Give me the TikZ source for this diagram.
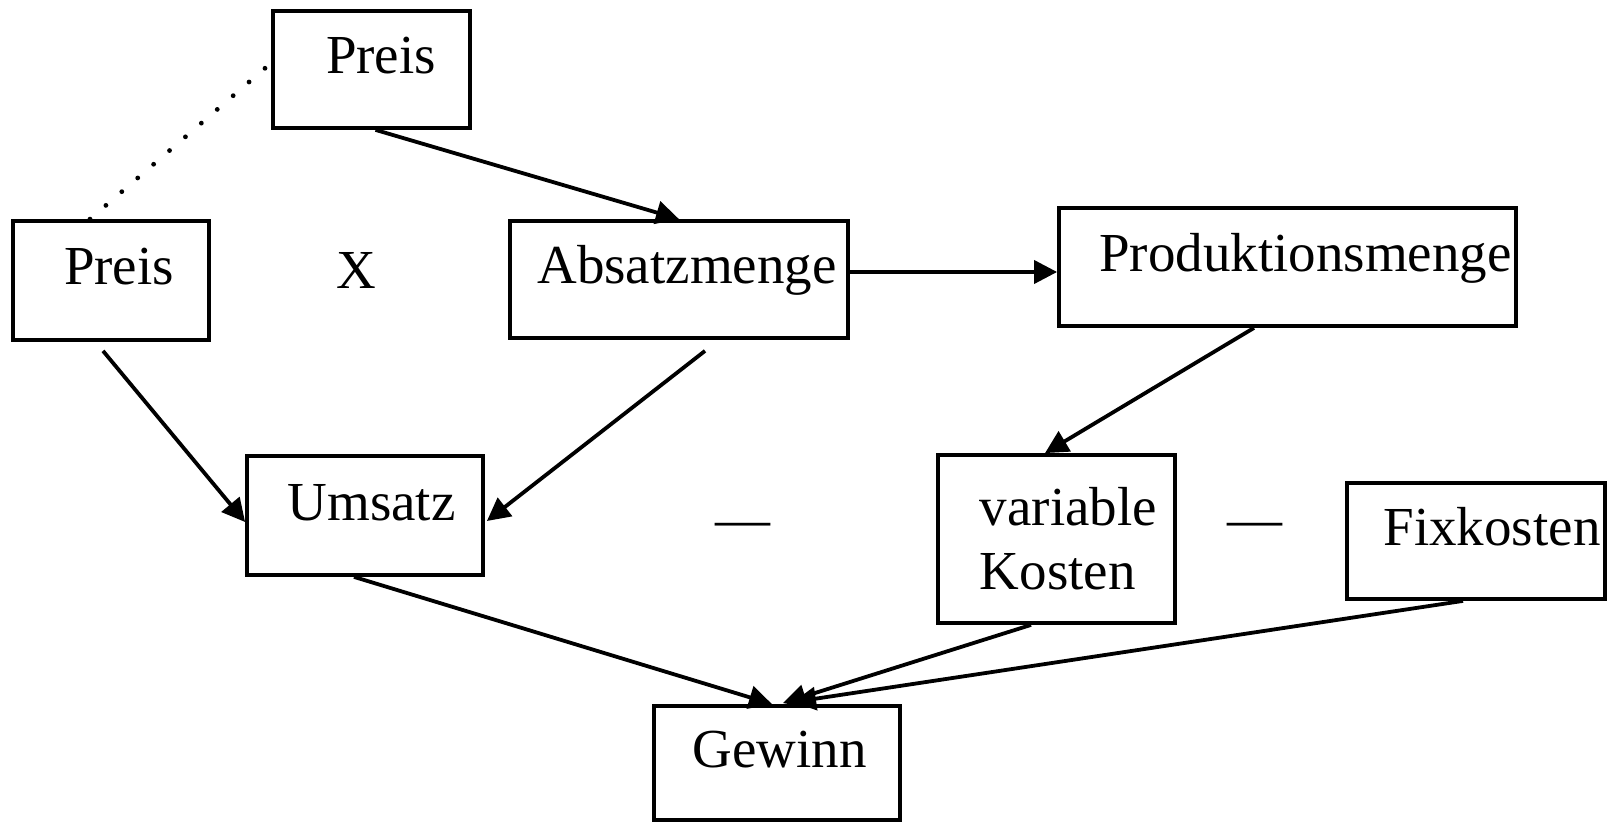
\documentclass[tikz,border=0pt]{standalone}
\usepackage{fontspec}
\setmainfont{Liberation Serif}
\usetikzlibrary{arrows.meta}

\begin{document}
\begin{tikzpicture}[x=0.5pt, y=-0.5pt,
  box/.style={draw, rectangle, line width=1.9pt, inner sep=0pt, font=\fontsize{27.5}{32}\selectfont},
  onerow/.style={text height=0.7em, text depth=0.25em},
  sign/.style={inner sep=0pt, font=\fontsize{27.5}{32}\selectfont},
  arr/.style={line width=1.9pt, -{Triangle[length=11.5pt, width=11.5pt]}}]

\useasboundingbox (0,0) rectangle (1610,823);

% === Boxes ===
\node[box, onerow, minimum width=98.5pt, minimum height=58.5pt] (preisA) at (371.5,69.5) {\hspace*{9.5pt}Preis};
\node[box, onerow, minimum width=98pt, minimum height=59.5pt] (preisB) at (111,280.5) {\hspace*{8pt}Preis};
\node[box, onerow, minimum width=169pt, minimum height=58.5pt] (absatz) at (679,279.5) {\hspace*{8pt}Absatzmenge};
\node[box, onerow, minimum width=228.5pt, minimum height=59pt] (prod) at (1287.5,267) {\hspace*{18pt}Produktionsmenge};
\node[box, onerow, minimum width=118pt, minimum height=59.5pt] (umsatz) at (365,515.5) {\hspace*{6.5pt}Umsatz};
\node[box, align=left, minimum width=118.5pt, minimum height=84pt] (varK) at (1056.5,539) {\hspace*{12pt}variable\\\hspace*{12pt}Kosten};
\node[box, onerow, minimum width=129pt, minimum height=58pt] (fix) at (1476,541) {\hspace*{16pt}Fixkosten};
\node[box, onerow, minimum width=123pt, minimum height=57pt] (gewinn) at (777,763) {\hspace*{2.5pt}Gewinn};

% === Operators ===
\node[sign] (mal) at (356,270) {X};
\node[sign] (minusA) at (743,530) {—};
\node[sign] (minusB) at (1255,530) {—};

% === Connectors ===
\draw[line width=2.4pt, line cap=round, dash pattern=on 0pt off 10.5pt]
  ([xshift=-10.5pt]preisB.north) -- ([yshift=3.25pt]preisA.west);
\draw[arr] ([xshift=2pt]preisA.south) -- (absatz.north);
\draw[arr] ([yshift=3.75pt]absatz.east) -- ([yshift=3.75pt]absatz.east -| prod.west);
\draw[arr] ([xshift=-4pt, yshift=-4.5pt]preisB.south) -- ([yshift=-3.25pt]umsatz.west);
\draw[arr] ([xshift=13pt, yshift=-5.5pt]absatz.south) -- ([xshift=1pt, yshift=-2.75pt]umsatz.east);
\draw[arr] ([xshift=-16.75pt]prod.south) -- ([xshift=-5.75pt]varK.north);
\draw[arr] ([xshift=-5.5pt]umsatz.south) -- ([xshift=-2.5pt]gewinn.north);
\draw[arr] ([xshift=-12.75pt]varK.south) -- ([xshift=3pt, yshift=0.5pt]gewinn.north);
\draw[arr] ([xshift=-6.5pt]fix.south) -- ([xshift=8pt, yshift=1pt]gewinn.north);
\end{tikzpicture}
\end{document}
